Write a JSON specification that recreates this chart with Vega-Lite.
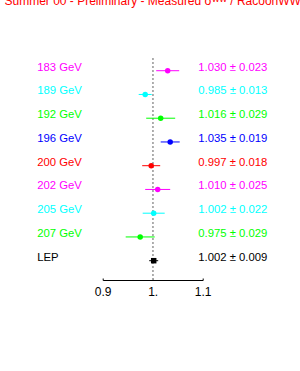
{
  "$schema": "https://vega.github.io/schema/vega-lite/v6.json",
  "width": 100,
  "height": 222,
  "autosize": {"type": "none"},
  "padding": {"left": 102.7, "top": 58, "right": 97.3, "bottom": 91},
  "background": "white",
  "config": {"view": {"stroke": null}, "font": "Liberation Sans"},
  "title": {
    "text": "Summer 00 - Preliminary - Measured σᵂᵂ / RacoonWW",
    "color": "#ff0000",
    "font": "Liberation Sans",
    "fontSize": 12,
    "fontWeight": "normal",
    "anchor": "middle",
    "offset": 50
  },
  "data": {
    "values": [
      {"label": "183 GeV", "value": 1.030, "err": 0.023, "txt": "1.030 ± 0.023"},
      {"label": "189 GeV", "value": 0.985, "err": 0.013, "txt": "0.985 ± 0.013"},
      {"label": "192 GeV", "value": 1.016, "err": 0.029, "txt": "1.016 ± 0.029"},
      {"label": "196 GeV", "value": 1.035, "err": 0.019, "txt": "1.035 ± 0.019"},
      {"label": "200 GeV", "value": 0.997, "err": 0.018, "txt": "0.997 ± 0.018"},
      {"label": "202 GeV", "value": 1.010, "err": 0.025, "txt": "1.010 ± 0.025"},
      {"label": "205 GeV", "value": 1.002, "err": 0.022, "txt": "1.002 ± 0.022"},
      {"label": "207 GeV", "value": 0.975, "err": 0.029, "txt": "0.975 ± 0.029"},
      {"label": "LEP", "value": 1.002, "err": 0.009, "txt": "1.002 ± 0.009"}
    ]
  },
  "encoding": {
    "y": {"field": "label", "type": "nominal", "sort": null, "scale": {"type": "point", "padding": 0.674, "align": 0.397}, "axis": null},
    "color": {
      "field": "label", "type": "nominal", "legend": null,
      "scale": {
        "domain": ["183 GeV", "189 GeV", "192 GeV", "196 GeV", "200 GeV", "202 GeV", "205 GeV", "207 GeV", "LEP"],
        "range": ["#ff00ff", "#00ffff", "#00ff00", "#0000ff", "#ff0000", "#ff00ff", "#00ffff", "#00ff00", "#000000"]
      }
    }
  },
  "layer": [
    {
      "mark": {"type": "rule", "color": "#aaaaaa", "strokeDash": [2, 2], "strokeWidth": 1},
      "encoding": {
        "x": {
          "datum": 1,
          "type": "quantitative",
          "scale": {"domain": [0.9, 1.1], "nice": false, "zero": false},
          "axis": {
            "title": null,
            "values": [0.9, 0.925, 0.95, 0.975, 1.0, 1.025, 1.05, 1.075, 1.1],
            "labelExpr": "abs(datum.value-0.9)<1e-6 ? '0.9' : abs(datum.value-1)<1e-6 ? '1.' : abs(datum.value-1.1)<1e-6 ? '1.1' : ''",
            "grid": false,
            "domainColor": "#000000",
            "domainWidth": 1,
            "tickColor": "#000000",
            "tickWidth": 1,
            "tickSize": -2,
            "labelFont": "Liberation Sans",
            "labelFontSize": 12,
            "labelColor": "#000000",
            "labelPadding": 8,
            "labelOverlap": false,
            "labelFlush": false
          }
        },
        "color": {"value": "#aaaaaa"},
        "y": null
      }
    },
    {
      "mark": {"type": "errorbar", "thickness": 1},
      "encoding": {
        "x": {"field": "value", "type": "quantitative"},
        "xError": {"field": "err"}
      }
    },
    {
      "mark": {"type": "point", "filled": true, "opacity": 1, "size": 30},
      "encoding": {
        "x": {"field": "value", "type": "quantitative"},
        "shape": {"condition": {"test": "datum.label == 'LEP'", "value": "square"}, "value": "circle"}
      }
    },
    {
      "mark": {"type": "text", "align": "left", "baseline": "middle", "dy": -3, "fontSize": 11.3, "font": "Liberation Sans"},
      "encoding": {
        "x": {"datum": 0.7692, "type": "quantitative"},
        "text": {"field": "label"}
      }
    },
    {
      "mark": {"type": "text", "align": "right", "baseline": "middle", "dy": -3, "fontSize": 11.3, "font": "Liberation Sans"},
      "encoding": {
        "x": {"datum": 1.2292, "type": "quantitative"},
        "text": {"field": "txt"}
      }
    }
  ]
}
